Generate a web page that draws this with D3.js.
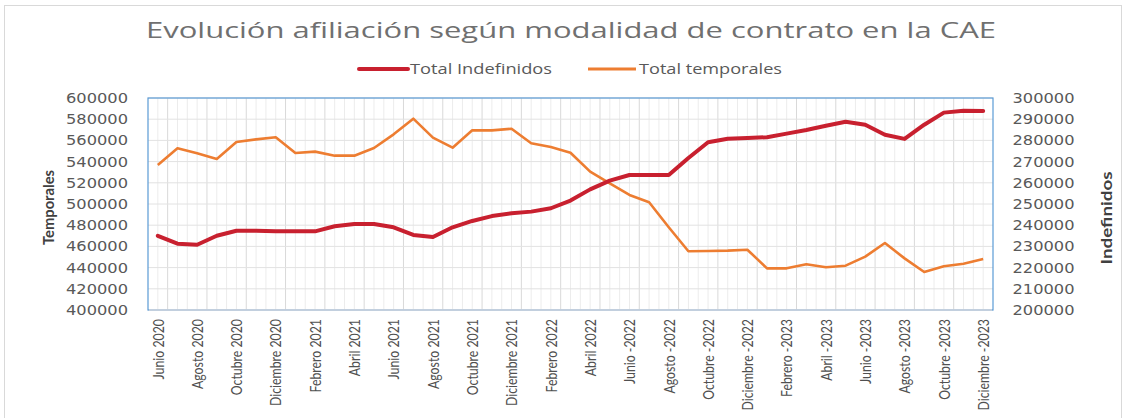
<!DOCTYPE html>
<html>
<head>
<meta charset="utf-8">
<script src="https://cdn.jsdelivr.net/npm/d3@7"></script>
<style>
  html, body { margin: 0; padding: 0; background: #fff; }
  svg { display: block; }
</style>
</head>
<body>
<svg id="chart" width="1127" height="418"></svg>
<script>
// ---------- DATA ----------
const categories = [
  "Junio 2020","Julio 2020","Agosto 2020","Septiembre 2020","Octubre 2020","Noviembre 2020","Diciembre 2020",
  "Enero 2021","Febrero 2021","Marzo 2021","Abril 2021","Mayo 2021","Junio 2021","Julio 2021","Agosto 2021",
  "Septiembre 2021","Octubre 2021","Noviembre 2021","Diciembre 2021","Enero 2022","Febrero 2022","Marzo 2022",
  "Abril 2022","Mayo 2022","Junio -2022","Julio -2022","Agosto -2022","Septiembre -2022","Octubre -2022",
  "Noviembre -2022","Diciembre -2022","Enero -2023","Febrero -2023","Marzo -2023","Abril -2023","Mayo -2023",
  "Junio -2023","Julio -2023","Agosto -2023","Septiembre -2023","Octubre -2023","Noviembre -2023","Diciembre -2023"
];
// Total temporales (left axis)
const temporales = [
  536800, 552500, 547800, 542500, 558500, 561000, 562900, 548100, 549400, 545600, 545600,
  552800, 565700, 580500, 562600, 553100, 569500, 569500, 571000, 557300, 553800, 548400,
  530500, 519500, 508500, 501600, 478000, 455400, 455600, 456000, 456900, 439300, 439300,
  443100, 440300, 441800, 450300, 463200, 448700, 435800, 441200, 443700, 448100
];
// Total indefinidos (right axis)
const indefinidos = [
  235000, 231300, 230800, 235000, 237400, 237400, 237100, 237100, 237100, 239500, 240600,
  240600, 239000, 235400, 234400, 239000, 242000, 244300, 245600, 246400, 248000, 251600,
  256900, 261000, 263700, 263700, 263700, 271700, 279100, 280800, 281100, 281500, 283200,
  284900, 286900, 288800, 287400, 282700, 280700, 287400, 293100, 294000, 293900
];
const leftTicks = [400000,420000,440000,460000,480000,500000,520000,540000,560000,580000,600000];
const rightTicks = [200000,210000,220000,230000,240000,250000,260000,270000,280000,290000,300000];
const titleText = "Evolución afiliación según modalidad de contrato en la CAE";
const seriesNames = ["Total Indefinidos", "Total temporales"];
const leftTitle = "Temporales";
const rightTitle = "Indefinidos";

// ---------- LAYOUT ----------
const svg = d3.select("#chart");
const plot = { left: 148, right: 993, top: 98, bottom: 310 };
const colRed = "#C8202F", colOrange = "#ED7D31";

const x = d3.scaleBand().domain(categories).range([plot.left, plot.right]).padding(0);
const bw = x.bandwidth();
const cx = d => x(d) + bw / 2;
const yL = d3.scaleLinear().domain([400000, 600000]).range([plot.bottom, plot.top]);
const yR = d3.scaleLinear().domain([200000, 300000]).range([plot.bottom, plot.top]);

function fit(sel, w) { sel.attr("textLength", w).attr("lengthAdjust", "spacingAndGlyphs"); }

// outer frame
svg.append("rect").attr("x", 4.5).attr("y", 5.5).attr("width", 1117).attr("height", 430)
  .attr("fill", "none").attr("stroke", "#d9d9d9").attr("stroke-width", 1);

// title
svg.append("text").attr("x", 146).attr("y", 37.5)
  .attr("font-family", "'Open Sans', sans-serif").attr("font-size", 21)
  .attr("fill", "#707070").text(titleText).call(fit, 850);

// legend
const lg = svg.append("g");
lg.append("line").attr("x1", 359).attr("x2", 408).attr("y1", 69).attr("y2", 69)
  .attr("stroke", colRed).attr("stroke-width", 4).attr("stroke-linecap", "round");
lg.append("text").attr("x", 410).attr("y", 73.5).attr("font-family", "'Open Sans', sans-serif")
  .attr("font-size", 14).attr("fill", "#595959").text(seriesNames[0]).call(fit, 142);
lg.append("line").attr("x1", 588).attr("x2", 636).attr("y1", 69).attr("y2", 69)
  .attr("stroke", colOrange).attr("stroke-width", 3);
lg.append("text").attr("x", 639).attr("y", 73.5).attr("font-family", "'Open Sans', sans-serif")
  .attr("font-size", 14).attr("fill", "#595959").text(seriesNames[1]).call(fit, 143);

// gridlines - vertical (minor at half bands, major at odd boundaries)
const grid = svg.append("g");
categories.forEach((c, i) => {
  grid.append("line").attr("x1", cx(c)).attr("x2", cx(c)).attr("y1", plot.top).attr("y2", plot.bottom)
    .attr("stroke", "#ececec").attr("stroke-width", 1);
  if (i > 0) {
    grid.append("line").attr("x1", x(c)).attr("x2", x(c)).attr("y1", plot.top).attr("y2", plot.bottom)
      .attr("stroke", i % 2 === 1 ? "#d9d9d9" : "#ececec").attr("stroke-width", 1);
  }
});
// horizontal gridlines
leftTicks.forEach(t => {
  grid.append("line").attr("x1", plot.left).attr("x2", plot.right).attr("y1", yL(t)).attr("y2", yL(t))
    .attr("stroke", "#e2e2e2").attr("stroke-width", 1);
});

// plot border
svg.append("rect").attr("x", plot.left).attr("y", plot.top)
  .attr("width", plot.right - plot.left).attr("height", plot.bottom - plot.top)
  .attr("fill", "none").attr("stroke", "#5B9BD5").attr("stroke-width", 1.2);
svg.append("line").attr("x1", plot.left + 1).attr("x2", plot.right - 1)
  .attr("y1", plot.bottom).attr("y2", plot.bottom).attr("stroke", "#d0d6de").attr("stroke-width", 1.5);

// axes
const axL = svg.append("g").attr("transform", `translate(${plot.left},0)`)
  .call(d3.axisLeft(yL).tickValues(leftTicks).tickFormat(d3.format("d")).tickSize(0).tickPadding(20));
const axR = svg.append("g").attr("transform", `translate(${plot.right},0)`)
  .call(d3.axisRight(yR).tickValues(rightTicks).tickFormat(d3.format("d")).tickSize(0).tickPadding(19.5));
[axL, axR].forEach(a => {
  a.select(".domain").remove();
  a.selectAll("text").attr("font-family", "'DejaVu Sans', sans-serif").attr("font-size", 14)
    .attr("fill", "#595959").call(fit, 62);
});

const axB = svg.append("g").attr("transform", `translate(0,${plot.bottom})`)
  .call(d3.axisBottom(x).tickValues(categories.filter((c, i) => i % 2 === 0)).tickSize(0));
axB.select(".domain").remove();
axB.selectAll("text")
  .attr("font-family", "Lato, sans-serif").attr("font-size", 16).attr("fill", "#505050")
  .attr("text-anchor", "end").attr("dy", "0.36em")
  .attr("transform", "translate(0,9) rotate(-90)").attr("x", 0).attr("y", 0);
let refW = 0;
axB.selectAll("text").each(function (d) { if (d === "Diciembre 2020") refW = this.getComputedTextLength(); });
const kx = refW ? 87 / refW : 0.78;
axB.selectAll("text").each(function () {
  const w = this.getComputedTextLength();
  d3.select(this).call(fit, w * kx);
});

// axis titles
svg.append("text").attr("transform", "translate(54,207.5) rotate(-90)").attr("text-anchor", "middle")
  .attr("font-family", "Lato, sans-serif").attr("font-weight", "bold").attr("font-size", 16)
  .attr("fill", "#404040").text(leftTitle).call(fit, 75);
svg.append("text").attr("transform", "translate(1112,218) rotate(-90)").attr("text-anchor", "middle")
  .attr("font-family", "Lato, sans-serif").attr("font-weight", "bold").attr("font-size", 16)
  .attr("fill", "#404040").text(rightTitle).call(fit, 93);

// lines
const lineL = d3.line().x((d, i) => cx(categories[i])).y(d => yL(d));
const lineR = d3.line().x((d, i) => cx(categories[i])).y(d => yR(d));
svg.append("path").datum(temporales).attr("d", lineL).attr("fill", "none")
  .attr("stroke", colOrange).attr("stroke-width", 2.6).attr("stroke-linejoin", "round");
svg.append("path").datum(indefinidos).attr("d", lineR).attr("fill", "none")
  .attr("stroke", colRed).attr("stroke-width", 4).attr("stroke-linejoin", "round").attr("stroke-linecap", "round");
</script>
</body>
</html>
